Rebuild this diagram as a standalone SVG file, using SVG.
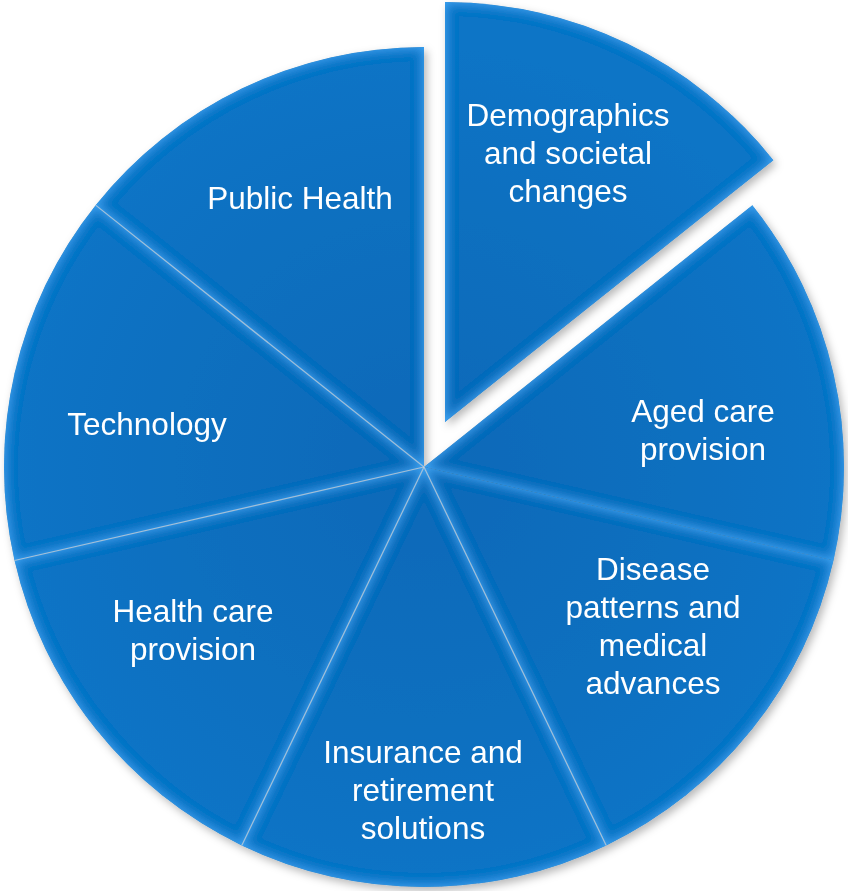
<svg xmlns="http://www.w3.org/2000/svg" width="848" height="891" viewBox="0 0 848 891">
  <defs>
    <style>
      .slice { fill: url(#sliceFill); filter: url(#bevel); }
      .label { font-family: "Liberation Sans", Arial, sans-serif; font-size: 31.5px; fill: #ffffff; text-anchor: middle; }
      .sep { stroke: #c9d3dc; stroke-width: 1.2; stroke-opacity: 0.75; fill: none; }
    </style>
    <radialGradient id="sliceFill" cx="424" cy="467" r="420" gradientUnits="userSpaceOnUse">
      <stop offset="0" stop-color="#0c69b8"/>
      <stop offset="0.6" stop-color="#0e6fbf"/>
      <stop offset="1" stop-color="#1174c6"/>
    </radialGradient>
    <!-- inner light bevel along every slice edge -->
    <filter id="bevel" x="-10%" y="-10%" width="120%" height="120%">
      <feGaussianBlur in="SourceAlpha" stdDeviation="6" result="blur"/>
      <feComposite in="SourceAlpha" in2="blur" operator="arithmetic" k2="1.1" k3="-1.1" result="edge"/>
      <feFlood flood-color="#3da4f4" result="light"/>
      <feComposite in="light" in2="edge" operator="in" result="glow"/>
      <feMerge>
        <feMergeNode in="SourceGraphic"/>
        <feMergeNode in="glow"/>
      </feMerge>
    </filter>
    <filter id="shadow" x="-10%" y="-10%" width="120%" height="120%">
      <feDropShadow dx="3" dy="4" stdDeviation="4" flood-color="#000000" flood-opacity="0.28"/>
    </filter>
  </defs>

  <rect width="848" height="891" fill="#ffffff"/>

  <g filter="url(#shadow)">
    <g id="public-health">
      <path class="slice" d="M424,467 L95.63,205.13 A420,420 0 0 1 424,47 Z"/>
      <text class="label" x="300" y="209">Public Health</text>
    </g>
    <g id="demographics">
      <path class="slice" d="M445,422 L445,2 A420,420 0 0 1 773.37,160.13 Z"/>
      <text class="label" x="568" y="126">Demographics</text>
      <text class="label" x="568" y="164">and societal</text>
      <text class="label" x="568" y="202">changes</text>
    </g>
    <g id="aged-care">
      <path class="slice" d="M424,467 L752.37,205.13 A420,420 0 0 1 833.47,560.46 Z"/>
      <text class="label" x="703" y="422">Aged care</text>
      <text class="label" x="703" y="460">provision</text>
    </g>
    <g id="disease">
      <path class="slice" d="M424,467 L833.47,560.46 A420,420 0 0 1 606.23,845.41 Z"/>
      <text class="label" x="653" y="580">Disease</text>
      <text class="label" x="653" y="618">patterns and</text>
      <text class="label" x="653" y="656">medical</text>
      <text class="label" x="653" y="694">advances</text>
    </g>
    <g id="insurance">
      <path class="slice" d="M424,467 L606.23,845.41 A420,420 0 0 1 241.77,845.41 Z"/>
      <text class="label" x="423" y="763">Insurance and</text>
      <text class="label" x="423" y="801">retirement</text>
      <text class="label" x="423" y="839">solutions</text>
    </g>
    <g id="health-care">
      <path class="slice" d="M424,467 L241.77,845.41 A420,420 0 0 1 14.53,560.46 Z"/>
      <text class="label" x="193" y="622">Health care</text>
      <text class="label" x="193" y="660">provision</text>
    </g>
    <g id="technology">
      <path class="slice" d="M424,467 L14.53,560.46 A420,420 0 0 1 95.63,205.13 Z"/>
      <text class="label" x="147" y="435">Technology</text>
    </g>
  </g>

  <!-- thin light seams between neighbouring slices -->
  <g id="seams">
    <line class="sep" x1="424" y1="467" x2="95.63" y2="205.13"/>
    <line class="sep" x1="424" y1="467" x2="14.53" y2="560.46"/>
    <line class="sep" x1="424" y1="467" x2="241.77" y2="845.41"/>
    <line class="sep" x1="424" y1="467" x2="606.23" y2="845.41"/>
  </g>
</svg>
